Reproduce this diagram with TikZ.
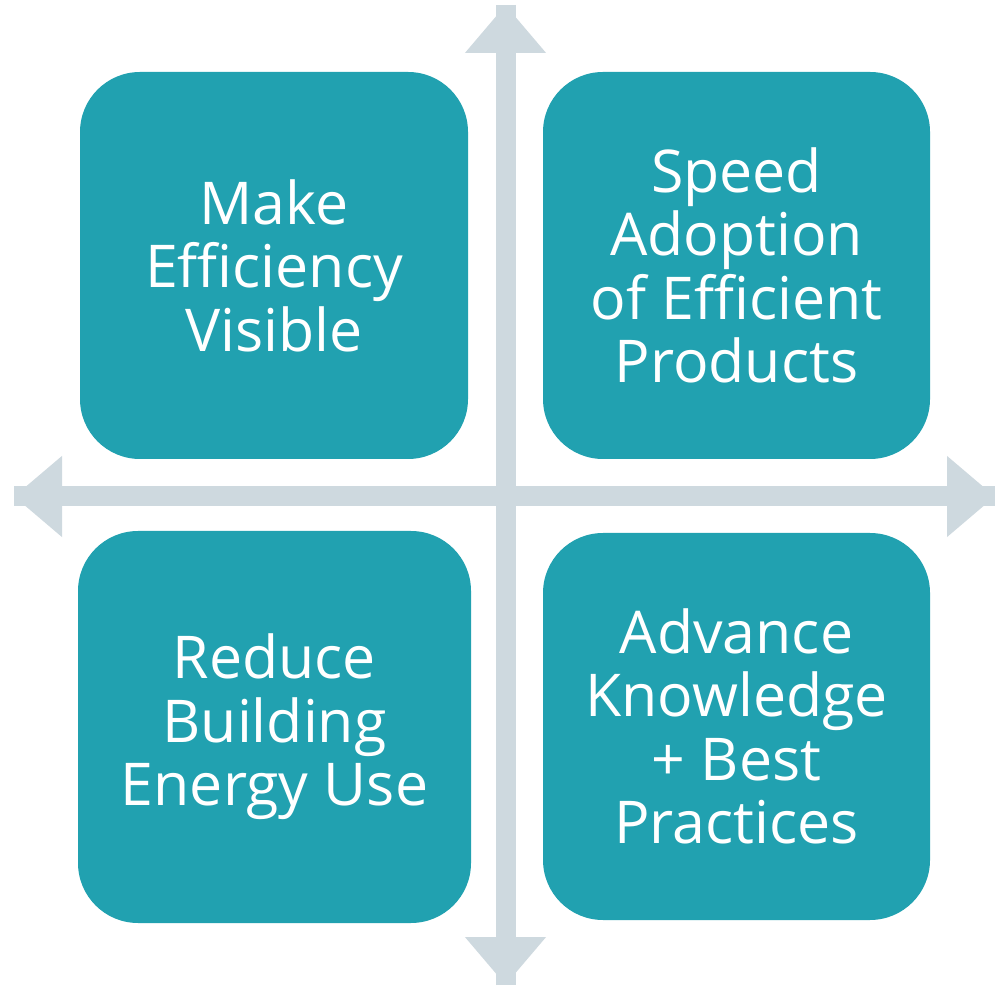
\documentclass[tikz,border=0pt]{standalone}
\usepackage{fontspec}
\setmainfont{Open Sans}
\usetikzlibrary{arrows.meta}
\definecolor{teal}{RGB}{33,161,176}
\definecolor{axisgray}{RGB}{206,217,223}

\begin{document}
\begin{tikzpicture}[x=1pt, y=1pt,
        quadbox/.style={fill=teal, rounded corners=60pt, inner sep=0pt, text=white, align=center,
            font=\fontsize{59}{63.5}\selectfont},
        axisarrow/.style={draw=axisgray, line width=20pt, line cap=butt,
            -{Triangle[width=78pt, length=48pt, fill=axisgray]}}]
        \useasboundingbox (0,0) rectangle (995,985);
        % axes
        \coordinate (bottom) at (505.5,0);
        \coordinate (top) at (505.5,980);
        \coordinate (left) at (14,488.5);
        \coordinate (right) at (995,488.5);
        \draw[axisarrow] (bottom) -- (top);
        \draw[axisarrow] (top) -- (bottom);
        \draw[axisarrow] (left) -- (right);
        \draw[axisarrow] (right) -- (left);
        % quadrants
        \node[quadbox, minimum width=388pt, minimum height=387pt] (visible) at (274,719.5) {Make\\Efficiency\\Visible};
        \node[quadbox, minimum width=387pt, minimum height=387pt] (adoption) at (736.5,719.5) {Speed\\Adoption\\of Efficient\\Products};
        \node[quadbox, minimum width=393pt, minimum height=392pt] (reduce) at (274.5,258) {Reduce\\Building\\Energy Use};
        \node[quadbox, minimum width=387pt, minimum height=387pt] (knowledge) at (736.5,258.5) {Advance\\Knowledge\\+ Best\\Practices};
    \end{tikzpicture}
\end{document}
